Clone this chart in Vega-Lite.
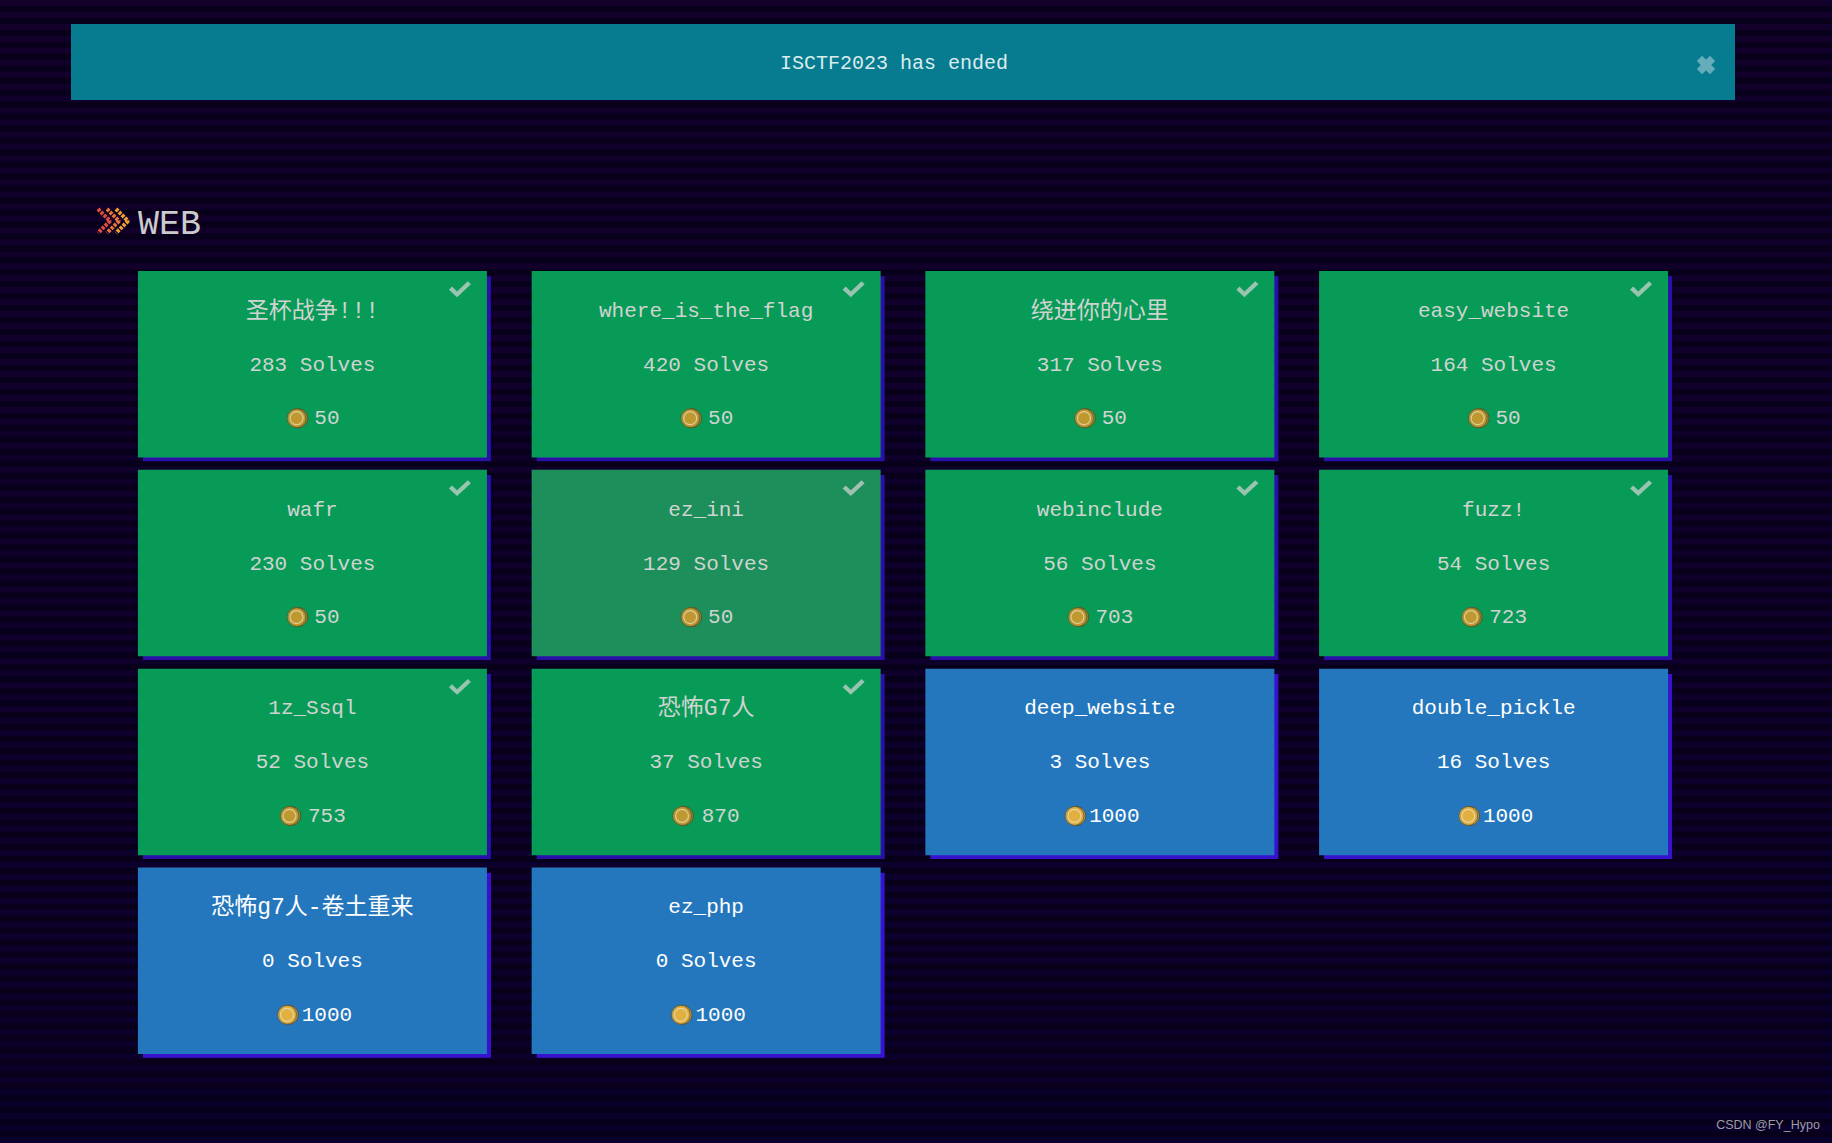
{
  "$schema": "https://vega.github.io/schema/vega-lite/v6.json",
  "description": "ISCTF2023 WEB challenge board",
  "width": 1832,
  "height": 1143,
  "padding": 0,
  "autosize": {"type": "fit", "contains": "padding"},
  "background": "#08001a",
  "view": {"stroke": null},
  "config": {"text": {"font": "Liberation Mono, Noto Sans CJK SC", "baseline": "middle"}},
  "datasets": {
    "stripes": [
      {"stripe":0},{"stripe":1},{"stripe":2},{"stripe":3},{"stripe":4},{"stripe":5},{"stripe":6},{"stripe":7},
      {"stripe":8},{"stripe":9},{"stripe":10},{"stripe":11},{"stripe":12},{"stripe":13},{"stripe":14},{"stripe":15},
      {"stripe":16},{"stripe":17},{"stripe":18},{"stripe":19},{"stripe":20},{"stripe":21},{"stripe":22},{"stripe":23},
      {"stripe":24},{"stripe":25},{"stripe":26},{"stripe":27},{"stripe":28},{"stripe":29},{"stripe":30},{"stripe":31},
      {"stripe":32},{"stripe":33},{"stripe":34},{"stripe":35},{"stripe":36},{"stripe":37},{"stripe":38},{"stripe":39},
      {"stripe":40},{"stripe":41},{"stripe":42},{"stripe":43},{"stripe":44},{"stripe":45},{"stripe":46},{"stripe":47},
      {"stripe":48},{"stripe":49},{"stripe":50},{"stripe":51},{"stripe":52},{"stripe":53},{"stripe":54},{"stripe":55},
      {"stripe":56},{"stripe":57},{"stripe":58},{"stripe":59},{"stripe":60},{"stripe":61},{"stripe":62},{"stripe":63},
      {"stripe":64},{"stripe":65},{"stripe":66},{"stripe":67},{"stripe":68},{"stripe":69},{"stripe":70},{"stripe":71},
      {"stripe":72},{"stripe":73},{"stripe":74},{"stripe":75},{"stripe":76},{"stripe":77},{"stripe":78},{"stripe":79},
      {"stripe":80},{"stripe":81},{"stripe":82},{"stripe":83},{"stripe":84},{"stripe":85},{"stripe":86},{"stripe":87},
      {"stripe":88},{"stripe":89},{"stripe":90},{"stripe":91},{"stripe":92},{"stripe":93},{"stripe":94},{"stripe":95}
    ],
    "cards": [
      {"col":1,"row":1,"title":"圣杯战争!!!","solves":"283 Solves","points":50,"state":"solved"},
      {"col":2,"row":1,"title":"where_is_the_flag","solves":"420 Solves","points":50,"state":"solved"},
      {"col":3,"row":1,"title":"绕进你的心里","solves":"317 Solves","points":50,"state":"solved"},
      {"col":4,"row":1,"title":"easy_website","solves":"164 Solves","points":50,"state":"solved"},
      {"col":1,"row":2,"title":"wafr","solves":"230 Solves","points":50,"state":"solved"},
      {"col":2,"row":2,"title":"ez_ini","solves":"129 Solves","points":50,"state":"hover"},
      {"col":3,"row":2,"title":"webinclude","solves":"56 Solves","points":703,"state":"solved"},
      {"col":4,"row":2,"title":"fuzz!","solves":"54 Solves","points":723,"state":"solved"},
      {"col":1,"row":3,"title":"1z_Ssql","solves":"52 Solves","points":753,"state":"solved"},
      {"col":2,"row":3,"title":"恐怖G7人","solves":"37 Solves","points":870,"state":"solved"},
      {"col":3,"row":3,"title":"deep_website","solves":"3 Solves","points":1000,"state":"open"},
      {"col":4,"row":3,"title":"double_pickle","solves":"16 Solves","points":1000,"state":"open"},
      {"col":1,"row":4,"title":"恐怖g7人-卷土重来","solves":"0 Solves","points":1000,"state":"open"},
      {"col":2,"row":4,"title":"ez_php","solves":"0 Solves","points":1000,"state":"open"}
    ]
  },
  "layer": [
    {
      "data": {"name": "stripes"},
      "mark": {"type": "rect"},
      "encoding": {
        "y": {"field": "stripe", "type": "ordinal", "axis": null, "scale": {"type": "band", "range": [0, 1143], "paddingInner": 0.5, "paddingOuter": 0}},
        "color": {"field": "stripe", "type": "quantitative", "legend": null, "scale": {"range": ["#12002a", "#0a002c"]}}
      }
    },
    {
      "data": {"values": [{"notice": "ISCTF2023 has ended"}]},
      "encoding": {
        "x": {"field": "notice", "type": "nominal", "axis": null, "scale": {"type": "band", "range": [71, 1735], "paddingInner": 0, "paddingOuter": 0}},
        "y": {"field": "notice", "type": "nominal", "axis": null, "scale": {"type": "band", "range": [24, 100], "paddingInner": 0, "paddingOuter": 0}}
      },
      "layer": [
        {"mark": {"type": "rect", "color": "#077b90", "width": 1664}},
        {"mark": {"type": "text", "fontSize": 20, "color": "#dcecec", "dx": -9, "dy": 1}, "encoding": {"text": {"field": "notice"}}},
        {"mark": {"type": "point", "shape": "cross", "angle": 45, "filled": true, "size": 340, "color": "#8fc3cf", "xOffset": 803, "yOffset": 3}}
      ]
    },
    {
      "data": {"values": [{"step": 1}, {"step": 2}, {"step": 3}]},
      "mark": {"type": "point", "shape": "M-0.5,-1 L0.5,0 L-0.5,1", "size": 576, "filled": false, "strokeWidth": 4, "strokeJoin": "bevel", "strokeDash": [3, 1.2], "opacity": 1},
      "encoding": {
        "x": {"field": "step", "type": "ordinal", "axis": null, "scale": {"type": "point", "range": [104, 122], "padding": 0}},
        "y": {"datum": "chevrons", "type": "nominal", "axis": null, "scale": {"type": "point", "range": [221, 221], "padding": 0}},
        "color": {"field": "step", "type": "ordinal", "legend": null, "scale": {"range": ["#df4f3c", "#e8743a", "#ef9f36"]}}
      }
    },
    {
      "data": {"values": [{"section": "WEB"}]},
      "mark": {"type": "text", "fontSize": 35, "color": "#cbcbcb"},
      "encoding": {
        "x": {"field": "section", "type": "nominal", "axis": null, "scale": {"type": "band", "range": [139, 200], "paddingInner": 0, "paddingOuter": 0}},
        "y": {"field": "section", "type": "nominal", "axis": null, "scale": {"type": "band", "range": [208, 237], "paddingInner": 0, "paddingOuter": 0}},
        "text": {"field": "section"}
      }
    },
    {
      "data": {"values": [{"mark": "CSDN @FY_Hypo"}]},
      "mark": {"type": "text", "font": "Liberation Sans", "fontSize": 12.5, "color": "#9c9ca4"},
      "encoding": {
        "x": {"field": "mark", "type": "nominal", "axis": null, "scale": {"type": "band", "range": [1720, 1816], "paddingInner": 0, "paddingOuter": 0}},
        "y": {"field": "mark", "type": "nominal", "axis": null, "scale": {"type": "band", "range": [1118, 1132], "paddingInner": 0, "paddingOuter": 0}},
        "text": {"field": "mark"}
      }
    },
    {
      "data": {"name": "cards"},
      "encoding": {
        "x": {"field": "col", "type": "ordinal", "axis": null, "scale": {"type": "band", "range": [138, 1668], "paddingInner": 0.114, "paddingOuter": 0}},
        "y": {"field": "row", "type": "ordinal", "axis": null, "scale": {"type": "band", "range": [271, 1054], "paddingInner": 0.0625, "paddingOuter": 0}}
      },
      "layer": [
        {
          "mark": {"type": "rect", "width": 348, "height": 185, "xOffset": 4.5, "yOffset": 4.5},
          "encoding": {"color": {"condition": {"test": "datum.state==='open'", "value": "#3713cf"}, "value": "#2a10a8"}}
        },
        {
          "mark": {"type": "rect", "width": 349},
          "encoding": {
            "color": {
              "condition": [
                {"test": "datum.state==='open'", "value": "#2577bd"},
                {"test": "datum.state==='hover'", "value": "#1c8f5b"}
              ],
              "value": "#089b58"
            }
          }
        },
        {
          "transform": [{"filter": "datum.state!=='open'"}],
          "mark": {"type": "point", "shape": "M-1,0.04 L-0.72,-0.24 L-0.26,0.2 L0.72,-0.72 L1,-0.44 L-0.26,0.72 Z", "size": 484, "filled": true, "color": "#d6d6d6", "xOffset": 147.5, "yOffset": -75}
        },
        {
          "mark": {"type": "text", "yOffset": -53.5},
          "encoding": {
            "text": {"field": "title"},
            "size": {"condition": {"test": "test(/[^\\x00-\\x7f]/, datum.title)", "value": 23}, "value": 21},
            "color": {"condition": {"test": "datum.state==='open'", "value": "#ffffff"}, "value": "#d0d4d0"}
          }
        },
        {
          "mark": {"type": "text", "fontSize": 21, "yOffset": 0.5},
          "encoding": {
            "text": {"field": "solves"},
            "color": {"condition": {"test": "datum.state==='open'", "value": "#ffffff"}, "value": "#d0d4d0"}
          }
        },
        {
          "mark": {"type": "text", "fontSize": 21, "xOffset": 14.5, "yOffset": 54},
          "encoding": {
            "text": {"field": "points"},
            "color": {"condition": {"test": "datum.state==='open'", "value": "#ffffff"}, "value": "#d0d4d0"}
          }
        },
        {
          "mark": {"type": "point", "shape": "M-0.8,0 A1,1 0 1,1 1.2,0 A1,1 0 1,1 -0.8,0 Z", "size": 361, "filled": true, "stroke": "#5a4420", "strokeWidth": 1, "yOffset": 54},
          "encoding": {
            "xOffset": {"field": "points", "type": "quantitative", "scale": {"type": "threshold", "domain": [100, 1000], "range": [158, 149, 136.5]}},
            "fill": {"condition": {"test": "datum.state==='open'", "value": "#e79f25"}, "value": "#c47f24"}
          }
        },
        {
          "mark": {"type": "point", "shape": "circle", "size": 361, "filled": true, "stroke": "#6a5225", "strokeWidth": 1, "yOffset": 54},
          "encoding": {
            "xOffset": {"field": "points", "type": "quantitative", "scale": {"type": "threshold", "domain": [100, 1000], "range": [158, 149, 136.5]}},
            "fill": {"condition": {"test": "datum.state==='open'", "value": "#f7bd36"}, "value": "#d5a030"}
          }
        },
        {
          "mark": {"type": "point", "shape": "circle", "size": 169, "filled": false, "stroke": "#e8e0c0", "strokeWidth": 1.2, "opacity": 0.75, "yOffset": 54},
          "encoding": {
            "xOffset": {"field": "points", "type": "quantitative", "scale": {"type": "threshold", "domain": [100, 1000], "range": [158, 149, 136.5]}}
          }
        }
      ]
    }
  ],
  "resolve": {"scale": {"x": "independent", "y": "independent", "color": "independent"}}
}
